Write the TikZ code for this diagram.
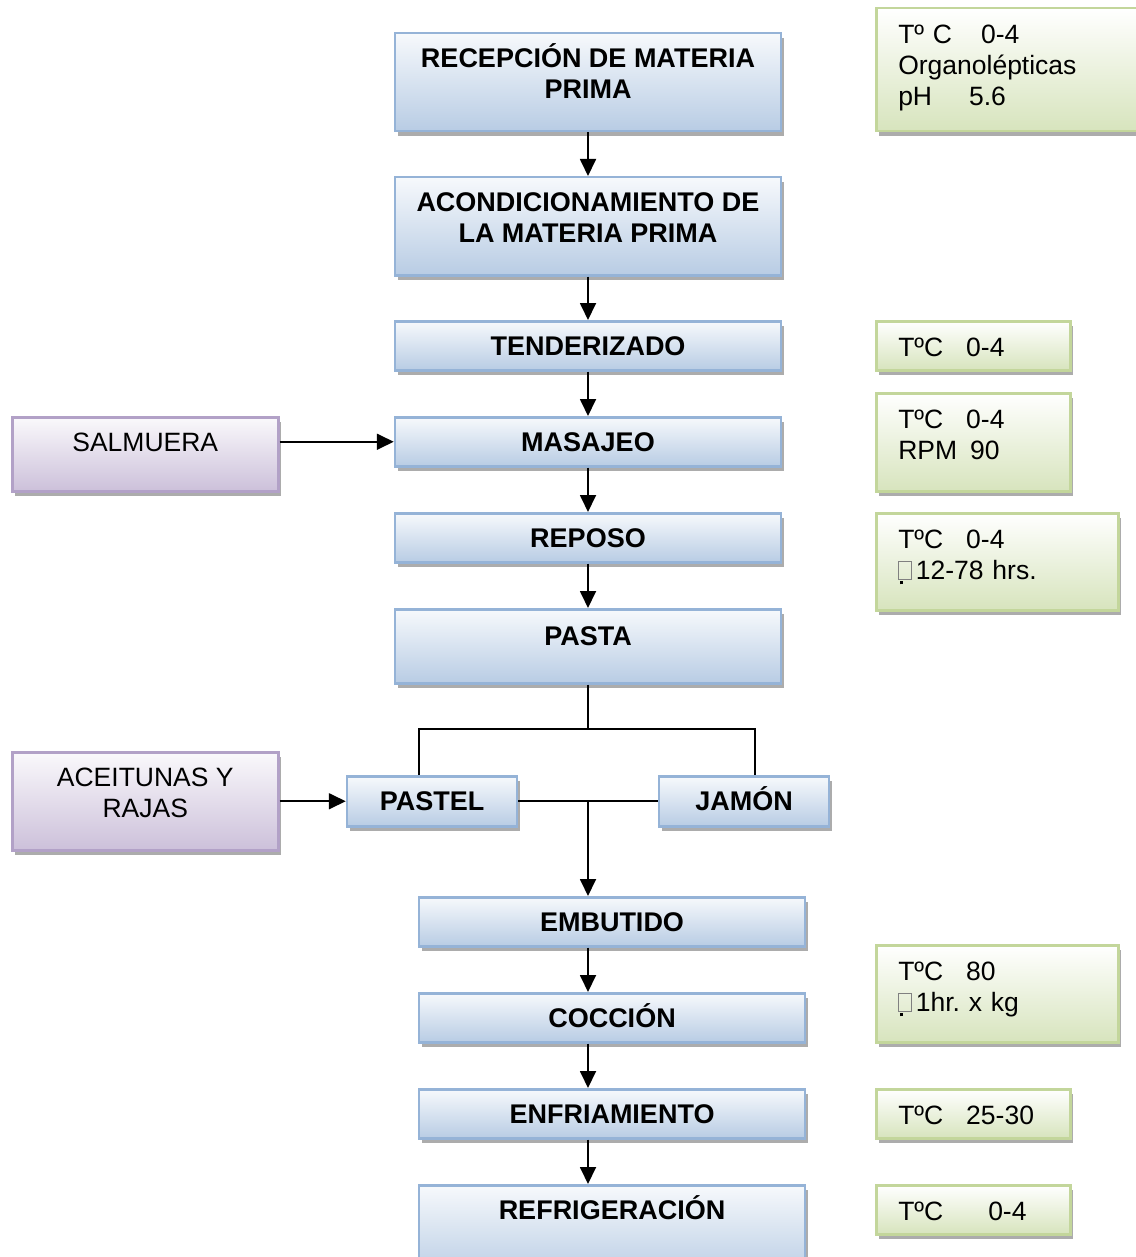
\documentclass[tikz,border=0pt]{standalone}
\usepackage{fontspec}
\setmainfont{Liberation Sans}
\usetikzlibrary{arrows.meta,shadows}
\frenchspacing

\definecolor{bluebot}{RGB}{184,204,228}
\definecolor{bluedraw}{RGB}{149,179,215}
\definecolor{purpbot}{RGB}{204,192,218}
\definecolor{purpdraw}{RGB}{178,161,199}
\definecolor{greenbot}{RGB}{215,228,189}
\definecolor{greendraw}{RGB}{195,214,155}

% glyph that the source font could not show
\newcommand{\tofu}{{\color{gray}\setlength{\fboxsep}{0pt}\setlength{\fboxrule}{0.8pt}\fbox{\rule{0pt}{17pt}\hspace{12pt}}}\llap{\rule[-5pt]{3pt}{3pt}\hspace{9pt}}\hspace{4pt}}

\begin{document}
\begin{tikzpicture}[
	x=1pt, y=-1pt,
	font=\fontsize{26.5}{31}\selectfont,
	shade/.style={drop shadow={shadow xshift=3pt, shadow yshift=-5pt, fill=gray!65, opacity=1}},
	blk/.style={draw=bluedraw, line width=2.5pt, top color=bluebot!12, bottom color=bluebot,
		font=\fontsize{27}{31}\selectfont\bfseries, align=center, anchor=north,
		minimum width=386pt, inner ysep=0pt, text height=34pt, text depth=15pt, shade},
	two/.style={text height=65pt, text depth=33pt},
	src/.style={draw=purpdraw, line width=2.5pt, top color=purpbot!10, bottom color=purpbot,
		align=center, anchor=north west, minimum width=266pt, inner ysep=0pt,
		text height=34pt, shade},
	note/.style={draw=greendraw, line width=2.5pt, top color=white, bottom color=greenbot,
		align=left, anchor=north west, inner xsep=22pt, inner ysep=0pt,
		text height=35pt, text depth=14pt, text width=150pt, shade},
	ln/.style={line width=1.8pt},
	arr/.style={ln, -{Triangle[length=17pt,width=16pt]}},
	]
\useasboundingbox (0,0) rectangle (1135,1257);

% main line
\node [blk, two] (rec) at (588,32) {RECEPCIÓN DE MATERIA\\PRIMA};
\node [blk, two] (acon) at (588,176) {ACONDICIONAMIENTO DE\\LA MATERIA PRIMA};
\node [blk] (tend) at (588,320) {TENDERIZADO};
\node [blk] (masa) at (588,416) {MASAJEO};
\node [blk] (repo) at (588,512) {REPOSO};
\node [blk, text height=36pt, text depth=38pt] (pasta) at (588,608) {PASTA};
\node [blk, minimum width=170pt, text depth=16pt] (pastel) at (432,775) {PASTEL};
\node [blk, minimum width=170pt, text depth=16pt] (jamon) at (744,775) {JAMÓN};
\node [blk] (embu) at (612,896) {EMBUTIDO};
\node [blk] (cocc) at (612,992) {COCCIÓN};
\node [blk] (enfr) at (612,1088) {ENFRIAMIENTO};
\node [blk, text depth=60pt] (refr) at (612,1184) {REFRIGERACIÓN};

% inputs
\node [src, text depth=40pt] (salm) at (11,416) {SALMUERA};
\node [src, two] (acei) at (11,751) {ACEITUNAS Y\\RAJAS};

% conditions
\node [note, text width=226pt, text depth=88pt] (c1) at (875,7)
	{Tº C\hspace{29pt}0-4\\Organolépticas\\pH\hspace{37pt}5.6};
\node [note] (c2) at (875,320) {TºC\hspace{23pt}0-4};
\node [note, text depth=63pt] (c3) at (875,392) {TºC\hspace{23pt}0-4\\RPM\hspace{13pt}90};
\node [note, text width=198pt, text depth=62pt] (c4) at (875,512) {TºC\hspace{23pt}0-4\\\tofu12-78 hrs.};
\node [note, text width=198pt, text depth=62pt] (c5) at (875,944) {TºC\hspace{23pt}80\\\tofu1hr. x kg};
\node [note] (c6) at (875,1088) {TºC\hspace{23pt}25-30};
\node [note] (c7) at (875,1184) {TºC\hspace{45pt}0-4};

% connectors
\foreach \a/\b in {rec/acon, acon/tend, tend/masa, masa/repo, repo/pasta}
	\draw [arr] (\a) -- (\b);
\draw [arr] (salm.east |- masa) -- (masa);
\draw [arr] (acei) -- (pastel);

\coordinate (fork) at (588,729);
\coordinate (join) at (588,800);
\draw [ln] (pasta) -- (fork);
\draw [ln] ([xshift=-13pt]pastel.north) |- (fork) -| ([xshift=11pt]jamon.north);
\draw [ln] (pastel) -- (jamon);
\draw [arr] (join) -- (join |- embu.north);
\foreach \a/\b in {embu/cocc, cocc/enfr, enfr/refr}
	\draw [arr] (\a.south -| join) -- (\b.north -| join);
\end{tikzpicture}
\end{document}
